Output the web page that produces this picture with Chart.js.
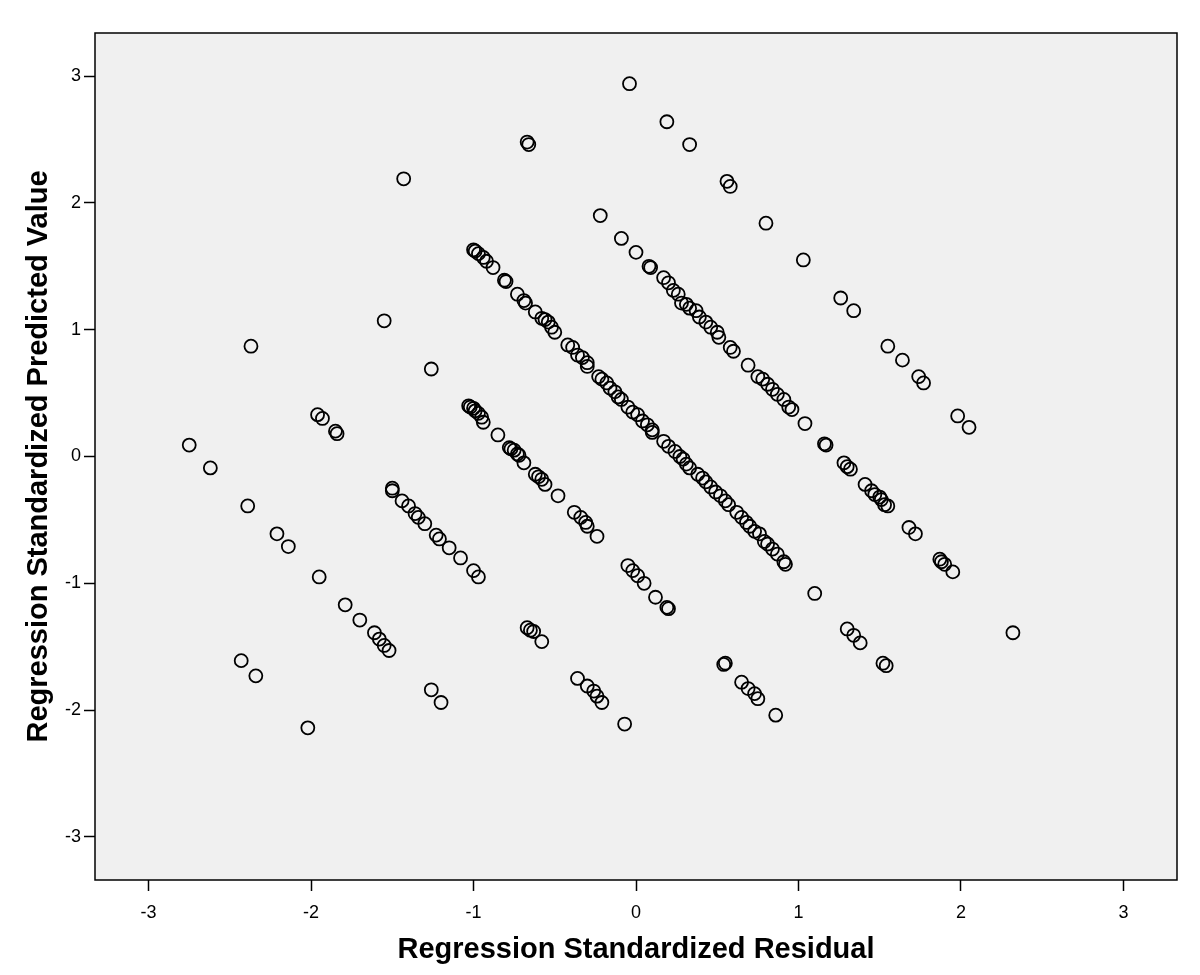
<!DOCTYPE html>
<html>
<head>
<meta charset="utf-8">
<script src="https://cdn.jsdelivr.net/npm/chart.js@4"></script>
<style>
  html, body { margin: 0; padding: 0; background: #fff; }
  #wrap { width: 1200px; height: 975px; }
</style>
</head>
<body>
<div id="wrap"><canvas id="chart" width="1200" height="975"></canvas></div>
<script>
// points, one list per diagonal streak: [residual, predicted]
const streakA = [
  [-0.04, 2.94], [0.19, 2.64], [0.33, 2.46], [0.56, 2.17], [0.58, 2.13], [0.80, 1.84],
  [1.03, 1.55], [1.26, 1.25], [1.34, 1.15], [1.55, 0.87], [1.64, 0.76], [1.74, 0.63],
  [1.77, 0.58], [1.98, 0.32], [2.05, 0.23]
];
const streakB = [
  [-0.67, 2.48], [-0.66, 2.46], [-0.22, 1.90], [-0.09, 1.72], [0.00, 1.61], [0.08, 1.50],
  [0.09, 1.49], [0.17, 1.41], [0.20, 1.37], [0.23, 1.31], [0.26, 1.28], [0.28, 1.21],
  [0.31, 1.20], [0.33, 1.17], [0.37, 1.15], [0.39, 1.10], [0.43, 1.06], [0.46, 1.02],
  [0.50, 0.98], [0.51, 0.94], [0.58, 0.86], [0.60, 0.83], [0.69, 0.72], [0.75, 0.63],
  [0.78, 0.61], [0.81, 0.57], [0.84, 0.53], [0.87, 0.49], [0.91, 0.45], [0.94, 0.39],
  [0.96, 0.37], [1.04, 0.26], [1.16, 0.10], [1.17, 0.09], [1.28, -0.05], [1.30, -0.08],
  [1.32, -0.10], [1.41, -0.22], [1.45, -0.27], [1.47, -0.30], [1.50, -0.32], [1.51, -0.34],
  [1.53, -0.38], [1.55, -0.39], [1.68, -0.56], [1.72, -0.61], [1.87, -0.81], [1.88, -0.83],
  [1.90, -0.85], [1.95, -0.91], [2.32, -1.39]
];
const streakC = [
  [-1.43, 2.19], [-1.00, 1.63], [-0.99, 1.62], [-0.97, 1.60], [-0.94, 1.57], [-0.92, 1.54],
  [-0.88, 1.49], [-0.81, 1.39], [-0.80, 1.38], [-0.73, 1.28], [-0.69, 1.23], [-0.68, 1.21],
  [-0.62, 1.14], [-0.58, 1.09], [-0.56, 1.08], [-0.54, 1.06], [-0.52, 1.02], [-0.50, 0.98],
  [-0.42, 0.88], [-0.39, 0.86], [-0.36, 0.80], [-0.33, 0.78], [-0.30, 0.74], [-0.30, 0.71],
  [-0.23, 0.63], [-0.21, 0.61], [-0.18, 0.58], [-0.16, 0.54], [-0.13, 0.51], [-0.11, 0.47],
  [-0.09, 0.45], [-0.05, 0.39], [-0.02, 0.35], [0.01, 0.33], [0.04, 0.28], [0.07, 0.25],
  [0.10, 0.21], [0.10, 0.19], [0.17, 0.12], [0.20, 0.08], [0.24, 0.04], [0.27, 0.00],
  [0.29, -0.02], [0.31, -0.06], [0.33, -0.09], [0.38, -0.14], [0.41, -0.17], [0.43, -0.20],
  [0.46, -0.24], [0.49, -0.28], [0.52, -0.31], [0.55, -0.35], [0.57, -0.38], [0.62, -0.44],
  [0.65, -0.48], [0.68, -0.52], [0.70, -0.55], [0.73, -0.59], [0.76, -0.61], [0.79, -0.67],
  [0.81, -0.69], [0.84, -0.73], [0.87, -0.77], [0.91, -0.83], [0.92, -0.85], [1.10, -1.08],
  [1.30, -1.36], [1.34, -1.41], [1.38, -1.47], [1.52, -1.63], [1.54, -1.65]
];
const streakD = [
  [-1.55, 1.07], [-1.26, 0.69], [-1.03, 0.40], [-1.02, 0.39], [-1.00, 0.38], [-0.99, 0.36],
  [-0.97, 0.34], [-0.95, 0.31], [-0.94, 0.27], [-0.85, 0.17], [-0.78, 0.07], [-0.77, 0.06],
  [-0.75, 0.05], [-0.73, 0.02], [-0.72, 0.01], [-0.69, -0.05], [-0.62, -0.14], [-0.60, -0.16],
  [-0.58, -0.18], [-0.56, -0.22], [-0.48, -0.31], [-0.38, -0.44], [-0.34, -0.48], [-0.31, -0.52],
  [-0.30, -0.55], [-0.24, -0.63], [-0.05, -0.86], [-0.02, -0.90], [0.01, -0.94], [0.05, -1.00],
  [0.12, -1.11], [0.19, -1.19], [0.20, -1.20], [0.54, -1.64], [0.55, -1.63], [0.65, -1.78],
  [0.69, -1.83], [0.73, -1.87], [0.75, -1.91], [0.86, -2.04]
];
const streakE = [
  [-2.37, 0.87], [-1.96, 0.33], [-1.93, 0.30], [-1.85, 0.20], [-1.84, 0.18], [-1.50, -0.25],
  [-1.50, -0.27], [-1.44, -0.35], [-1.40, -0.39], [-1.36, -0.45], [-1.34, -0.48], [-1.30, -0.53],
  [-1.23, -0.62], [-1.21, -0.65], [-1.15, -0.72], [-1.08, -0.80], [-1.00, -0.90], [-0.97, -0.95],
  [-0.67, -1.35], [-0.65, -1.37], [-0.63, -1.38], [-0.58, -1.46], [-0.36, -1.75], [-0.30, -1.81],
  [-0.26, -1.85], [-0.24, -1.89], [-0.21, -1.94], [-0.07, -2.11]
];
const streakF = [
  [-2.75, 0.09], [-2.62, -0.09], [-2.39, -0.39], [-2.21, -0.61], [-2.14, -0.71], [-1.95, -0.95],
  [-1.79, -1.17], [-1.70, -1.29], [-1.61, -1.39], [-1.58, -1.44], [-1.55, -1.49], [-1.52, -1.53],
  [-1.26, -1.84], [-1.20, -1.94]
];
const streakG = [
  [-2.43, -1.61], [-2.34, -1.73], [-2.02, -2.14]
];

const xTicks = [-3, -2, -1, 0, 1, 2, 3];
const yTicks = [-3, -2, -1, 0, 1, 2, 3];

const allPoints = [streakA, streakB, streakC, streakD, streakE, streakF, streakG]
  .flat()
  .map(p => ({ x: p[0], y: p[1] }));

// grey plot background and the black frame on all four sides
const frame = {
  id: 'frame',
  beforeDatasetsDraw(chart) {
    const { ctx, chartArea: a } = chart;
    ctx.save();
    ctx.fillStyle = '#f0f0f0';
    ctx.fillRect(a.left, a.top, a.right - a.left, a.bottom - a.top);
    ctx.restore();
  },
  afterDraw(chart) {
    const { ctx, chartArea: a } = chart;
    ctx.save();
    ctx.strokeStyle = '#000';
    ctx.lineWidth = 1.5;
    ctx.strokeRect(a.left, a.top, a.right - a.left, a.bottom - a.top);
    ctx.restore();
  }
};

const tickFont = { family: 'Liberation Sans, Arial, sans-serif', size: 18 };
const titleFont = { family: 'Liberation Sans, Arial, sans-serif', size: 29, weight: 'bold' };

new Chart(document.getElementById('chart'), {
  type: 'scatter',
  data: {
    datasets: [{
      data: allPoints,
      pointRadius: 6.5,
      pointHoverRadius: 6.5,
      pointBorderWidth: 1.8,
      borderColor: '#000',
      backgroundColor: 'rgba(0,0,0,0)'
    }]
  },
  options: {
    responsive: false,
    animation: false,
    layout: { padding: { left: 0, top: 33, right: 23, bottom: 0 } },
    plugins: { legend: { display: false }, tooltip: { enabled: false } },
    scales: {
      x: {
        min: -3.33, max: 3.33,
        afterBuildTicks: s => { s.ticks = xTicks.map(v => ({ value: v })); },
        afterFit: s => { s.height = 95; },
        grid: { drawOnChartArea: false, drawTicks: true, tickLength: 11, tickWidth: 1.5, tickColor: '#000' },
        border: { display: false },
        ticks: { color: '#000', font: tickFont, padding: 11, maxRotation: 0 },
        title: { display: true, text: 'Regression Standardized Residual', color: '#000', font: titleFont, padding: { top: 0, bottom: 8 } }
      },
      y: {
        min: -3.34, max: 3.34,
        afterBuildTicks: s => { s.ticks = yTicks.map(v => ({ value: v })); },
        afterFit: s => { s.width = 95; },
        grid: { drawOnChartArea: false, drawTicks: true, tickLength: 11, tickWidth: 1.5, tickColor: '#000' },
        border: { display: false },
        ticks: { color: '#000', font: tickFont, padding: 3 },
        title: { display: true, text: 'Regression Standardized Predicted Value', color: '#000', font: titleFont, padding: { top: 22, bottom: 0 } }
      }
    }
  },
  plugins: [frame]
});
</script>
</body>
</html>
